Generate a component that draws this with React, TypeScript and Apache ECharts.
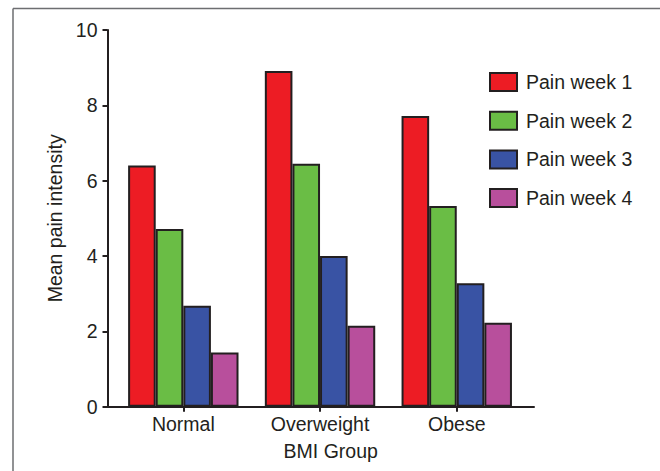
import React, { useEffect, useRef } from "react";
import * as echarts from "echarts";

const categories = ["Normal", "Overweight", "Obese"];
const seriesNames = ["Pain week 1", "Pain week 2", "Pain week 3", "Pain week 4"];
const week1 = [6.4, 8.91, 7.72];
const week2 = [4.72, 6.45, 5.33];
const week3 = [2.68, 4.0, 3.28];
const week4 = [1.44, 2.15, 2.23];
const colors = ["#ed1c24", "#6abd45", "#3953a4", "#b84f9c"];
const yTicks = [0, 2, 4, 6, 8, 10];

const FONT = "'Liberation Sans', Arial, sans-serif";
const INK = "#231f20";
const FS = 19.5;

export default function App() {
  const ref = useRef<HTMLDivElement>(null);
  useEffect(() => {
    if (!ref.current) return;
    const chart = echarts.init(ref.current, null, { renderer: "svg" });
    const all = [week1, week2, week3, week4];
    const catPos = categories.map((_, i) => i + 1);
    chart.setOption({
      animation: false,
      textStyle: { fontFamily: FONT },
      grid: { left: 107.5, right: 126, top: 30, bottom: 64.3 },
      legend: {
        orient: "vertical",
        left: 489,
        top: 72,
        padding: 0,
        itemWidth: 27,
        itemHeight: 18,
        itemGap: 18.7,
        icon: "rect",
        textStyle: { fontSize: FS, lineHeight: 18, color: INK, fontFamily: FONT, padding: [0, 0, 0, 4] },
        data: seriesNames,
      },
      xAxis: {
        type: "value",
        min: 0.4455,
        max: 3.565,
        name: "BMI Group",
        nameLocation: "middle",
        nameGap: 34,
        nameTextStyle: { fontSize: FS, color: INK, fontFamily: FONT, padding: [0, 0, 0, 20] },
        splitLine: { show: false },
        axisLine: { show: true, lineStyle: { color: INK, width: 2 } },
        axisTick: { show: true, customValues: catPos, length: 5, lineStyle: { color: INK, width: 2 } },
        axisLabel: {
          customValues: catPos,
          fontSize: FS,
          color: INK,
          fontFamily: FONT,
          margin: 7,
          formatter: (v: number) => categories[Math.round(v) - 1] ?? "",
        },
      },
      yAxis: {
        type: "value",
        min: yTicks[0],
        max: yTicks[yTicks.length - 1],
        interval: 2,
        name: "Mean pain intensity",
        nameLocation: "middle",
        nameGap: 40,
        nameTextStyle: { fontSize: FS, color: INK, fontFamily: FONT },
        splitLine: { show: false },
        axisLine: { show: true, lineStyle: { color: INK, width: 2 } },
        axisTick: { show: true, length: 5, lineStyle: { color: INK, width: 2 } },
        axisLabel: { fontSize: FS, color: INK, fontFamily: FONT, margin: 10 },
      },
      graphic: [
        { type: "line", shape: { x1: 13, y1: 8.5, x2: 13, y2: 471 }, style: { stroke: "#6d6e71", lineWidth: 1.5 } },
        { type: "line", shape: { x1: 13, y1: 8.5, x2: 660, y2: 8.5 }, style: { stroke: "#6d6e71", lineWidth: 1.5 } },
      ],
      series: seriesNames.map((name, s) => ({
        name,
        type: "bar",
        barWidth: 27.6,
        barGap: "0%",
        itemStyle: { color: colors[s], borderColor: INK, borderWidth: 2 },
        data: all[s].map((v, i) => [catPos[i], v]),
      })),
    });
    return () => chart.dispose();
  }, []);
  return (
    <div
      ref={ref}
      style={{ position: "fixed", left: 0, top: 0, width: 660, height: 471, background: "#fff" }}
    />
  );
}
